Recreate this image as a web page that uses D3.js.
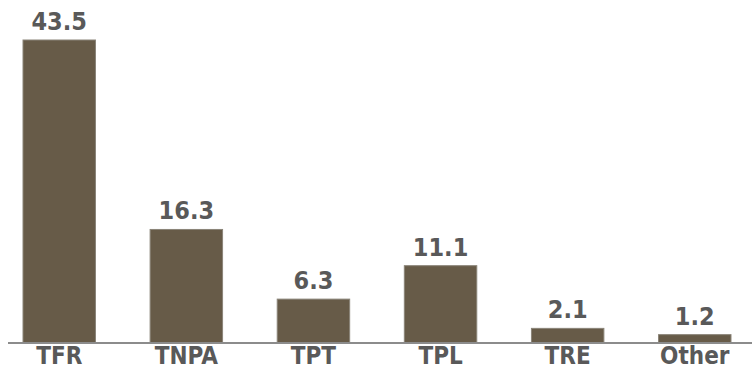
<!DOCTYPE html>
<html>
<head>
<meta charset="utf-8">
<script src="https://cdn.jsdelivr.net/npm/d3@7"></script>
<style>
  html, body { margin: 0; padding: 0; background: #fff; }
  svg { display: block; }
  text { font-family: "DejaVu Sans Condensed", "DejaVu Sans", sans-serif; font-stretch: condensed; font-weight: bold; }
</style>
</head>
<body>
<svg id="chart" width="752" height="371"></svg>
<script>
const categories = ["TFR", "TNPA", "TPT", "TPL", "TRE", "Other"];
const values = [43.5, 16.3, 6.3, 11.1, 2.1, 1.2];

const svg = d3.select("#chart");
const baseline = 343;

const x = d3.scaleBand()
  .domain(categories)
  .range([0, 754])
  .paddingInner(0.43)
  .paddingOuter(0.181);

const y = d3.scaleLinear()
  .domain([0, 43.5])
  .range([baseline, 40]);

const data = categories.map((c, i) => ({ cat: c, val: values[i] }));

// bars
svg.append("g")
  .selectAll("rect")
  .data(data)
  .join("rect")
  .attr("x", d => x(d.cat))
  .attr("y", d => y(d.val))
  .attr("width", x.bandwidth())
  .attr("height", d => y(0) - y(d.val))
  .attr("fill", "#675b48")
  .attr("stroke", "#8a8478")
  .attr("stroke-width", 1);

// value labels
svg.append("g")
  .selectAll("text")
  .data(data)
  .join("text")
  .attr("x", d => x(d.cat) + x.bandwidth() / 2)
  .attr("y", d => y(d.val) - 10)
  .attr("text-anchor", "middle")
  .attr("font-size", 25)
  .attr("fill", "#595959")
  .text(d => d.val.toFixed(1));

// category axis
const axis = d3.axisBottom(x).tickSize(0).tickPadding(0);
const gAxis = svg.append("g")
  .attr("transform", `translate(0,${baseline})`)
  .call(axis);
gAxis.select(".domain").remove();
gAxis.append("line")
  .attr("x1", 8).attr("x2", 752)
  .attr("y1", 0).attr("y2", 0)
  .attr("stroke", "#8c8c8c")
  .attr("stroke-width", 2);
gAxis.selectAll(".tick text")
  .attr("dy", null)
  .attr("y", 21)
  .attr("font-size", 24)
  .attr("font-family", "'DejaVu Sans Condensed', 'DejaVu Sans', sans-serif")
  .attr("font-weight", "bold")
  .attr("fill", "#595959");
</script>
</body>
</html>
